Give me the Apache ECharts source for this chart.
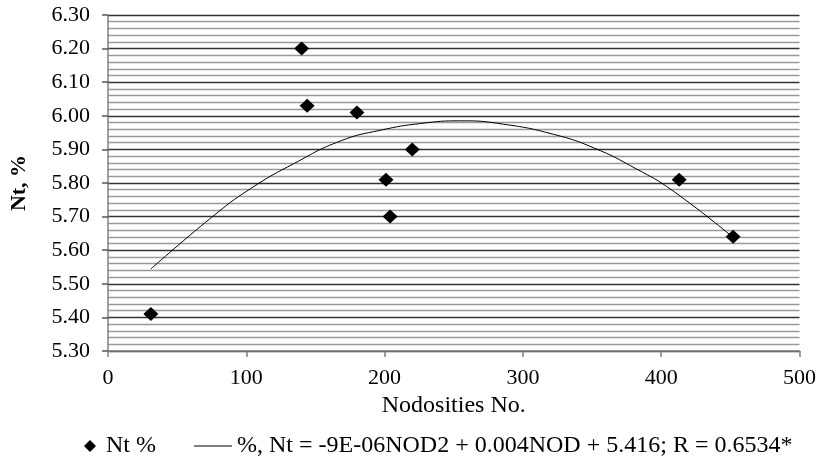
<!DOCTYPE html>
<html>
<head>
<meta charset="utf-8">
<script src="https://cdn.jsdelivr.net/npm/echarts@6/dist/echarts.min.js"></script>
<style>
  html, body { margin: 0; padding: 0; background: #fff; }
  #chart { width: 819px; height: 468px; }
</style>
</head>
<body>
<div id="chart"></div>
<script>
  // measured points
  const nodosities = [31, 140, 144, 180, 201, 204, 220, 413, 452]
  const ntPercent = [5.41, 6.20, 6.03, 6.01, 5.81, 5.70, 5.90, 5.81, 5.64]

  // trend curve
  const trendX = [31, 75, 103, 135, 168, 197, 226, 255, 286, 322, 351, 382, 408, 452]
  const trendY = [5.544, 5.698, 5.783, 5.859, 5.925, 5.957, 5.977, 5.985, 5.975, 5.945, 5.905, 5.842, 5.778, 5.638]

  const scatterName = 'Nt %'
  const trendName = '%, Nt = -9E-06NOD2 + 0.004NOD + 5.416; R = 0.6534*'
  const xTitle = 'Nodosities No.'
  const yTitle = 'Nt, %'

  const font = "'Liberation Serif', 'Times New Roman', serif"

  const scatterData = nodosities.map((x, i) => [x, ntPercent[i]])
  const trendData = trendX.map((x, i) => [x, trendY[i]])

  const myChart = echarts.init(document.getElementById('chart'))
  myChart.setOption({
    animation: false,
    textStyle: { fontFamily: font, color: '#000' },
    grid: {
      left: 106,
      right: 19,
      top: 15,
      bottom: 117
    },
    legend: [
      {
        data: [{ name: scatterName, icon: 'diamond' }],
        left: 79,
        top: 429,
        itemWidth: 12,
        itemHeight: 12,
        textStyle: { fontFamily: font, fontSize: 24, color: '#000', padding: [0, 0, 0, 5] }
      },
      {
        data: [{ name: trendName, icon: 'rect' }],
        left: 189,
        top: 429,
        itemWidth: 38,
        itemHeight: 1,
        textStyle: { fontFamily: font, fontSize: 24, color: '#000' }
      }
    ],
    xAxis: {
      type: 'value',
      min: 0,
      max: 500,
      interval: 100,
      name: xTitle,
      nameLocation: 'middle',
      nameGap: 41,
      nameTextStyle: { fontFamily: font, fontSize: 24, color: '#000' },
      axisLine: { show: true, onZero: false, lineStyle: { color: '#808080', width: 1.5 } },
      axisTick: { show: true, inside: false, length: 6, lineStyle: { color: '#808080', width: 1.5 } },
      axisLabel: { fontFamily: font, fontSize: 22, color: '#000', margin: 16 },
      splitLine: { show: false }
    },
    yAxis: {
      type: 'value',
      min: 5.3,
      max: 6.3,
      interval: 0.1,
      name: yTitle,
      nameLocation: 'middle',
      nameGap: 78,
      nameTextStyle: { fontFamily: font, fontSize: 22, fontWeight: 'bold', color: '#000' },
      axisLine: { show: true, lineStyle: { color: '#808080', width: 1.5 } },
      axisTick: { show: true, inside: false, length: 6, lineStyle: { color: '#555', width: 1.5 } },
      axisLabel: {
        fontFamily: font,
        fontSize: 22,
        color: '#000',
        margin: 18,
        formatter: v => v.toFixed(2)
      },
      splitLine: { show: true, lineStyle: { color: '#333', width: 1.3 } },
      minorTick: { show: false, splitNumber: 5 },
      minorSplitLine: { show: true, lineStyle: { color: '#999', width: 1.4 } }
    },
    series: [
      {
        name: scatterName,
        type: 'scatter',
        symbol: 'diamond',
        symbolSize: [15, 14],
        itemStyle: { color: '#000', opacity: 1 },
        data: scatterData,
        z: 3
      },
      {
        name: trendName,
        type: 'line',
        smooth: 0.5,
        showSymbol: false,
        symbol: 'none',
        lineStyle: { color: '#000', width: 1 },
        itemStyle: { color: '#000' },
        data: trendData,
        z: 2
      }
    ]
  })
</script>
</body>
</html>
